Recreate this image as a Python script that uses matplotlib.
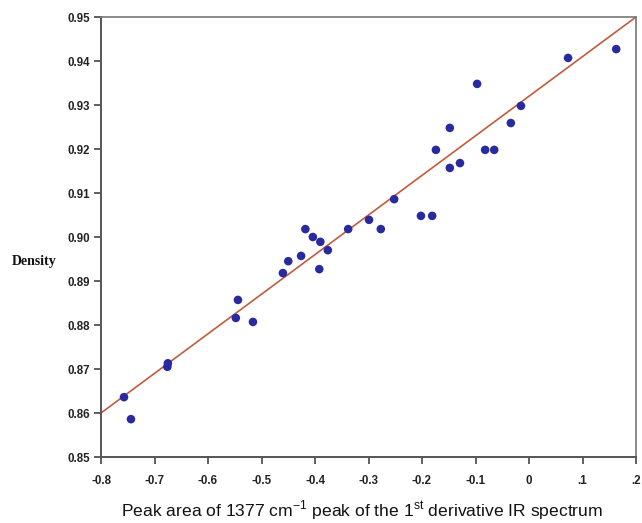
import matplotlib
matplotlib.use("Agg")
import matplotlib.pyplot as plt
import numpy as np

plt.rcParams["axes.unicode_minus"] = False

peak_area = [-0.757, -0.744, -0.675, -0.676, -0.548, -0.544, -0.516, -0.460, -0.450,
             -0.426, -0.418, -0.404, -0.390, -0.392, -0.376, -0.338, -0.299, -0.277,
             -0.252, -0.202, -0.181, -0.174, -0.148, -0.148, -0.129, -0.097, -0.082,
             -0.065, -0.034, -0.015, 0.073, 0.163]
density = [0.8636, 0.8586, 0.8713, 0.8705, 0.8816, 0.8857, 0.8807, 0.8918, 0.8945,
           0.8957, 0.9018, 0.9000, 0.8989, 0.8927, 0.8970, 0.9018, 0.9039, 0.9018,
           0.9086, 0.9048, 0.9048, 0.9198, 0.9157, 0.9248, 0.9168, 0.9348, 0.9198,
           0.9198, 0.9259, 0.9298, 0.9407, 0.9427]

fit_slope = 0.09
fit_intercept = 0.932
fit_x = [-0.8, 0.2]

xticks = [-0.8, -0.7, -0.6, -0.5, -0.4, -0.3, -0.2, -0.1, 0.0, 0.1, 0.2]
xtick_labels = ["-0.8", "-0.7", "-0.6", "-0.5", "-0.4", "-0.3", "-0.2", "-0.1", "0", ".1", ".2"]
yticks = [0.85, 0.86, 0.87, 0.88, 0.89, 0.90, 0.91, 0.92, 0.93, 0.94, 0.95]
ytick_labels = ["0.85", "0.86", "0.87", "0.88", "0.89", "0.90", "0.91", "0.92", "0.93", "0.94", "0.95"]

fig = plt.figure(figsize=(6.42, 5.23), dpi=100)
ax = fig.add_axes([101/642, 1 - 457/523, 535/642, 440/523])

fx = np.array(fit_x)
ax.plot(fx, fit_slope * fx + fit_intercept, color="#c45a3c", lw=1.2, zorder=2)
ax.scatter(peak_area, density, s=38, color="#2a2aa0", edgecolors="none", zorder=3)

ax.set_xlim(-0.8, 0.2)
ax.set_ylim(0.85, 0.95)
ax.set_xticks(xticks)
ax.set_xticklabels(xtick_labels)
ax.set_yticks(yticks)
ax.set_yticklabels(ytick_labels)

for lab in ax.get_xticklabels() + ax.get_yticklabels():
    lab.set_fontfamily("Liberation Sans")
    lab.set_fontweight("bold")
    lab.set_fontsize(8.3)
    lab.set_color("#222222")

ax.tick_params(axis="both", direction="out", length=5, width=1.2, color="#444444", pad=3)
ax.tick_params(axis="x", pad=8)

for side in ["left", "bottom"]:
    ax.spines[side].set_color("#555555")
    ax.spines[side].set_linewidth(1.4)
for side in ["top", "right"]:
    ax.spines[side].set_color("#777777")
    ax.spines[side].set_linewidth(1.2)

fig.text(12/642, 1 - 262/523, "Density", family="Liberation Serif", fontweight="bold",
         fontsize=10, ha="left", va="center", color="#111111")
fig.text(362/642, 1 - 510/523,
         "Peak area of 1377 cm$^{\\mathregular{-1}}$ peak of the 1$^{\\mathregular{st}}$ derivative IR spectrum",
         family="Liberation Sans", fontsize=12.6, ha="center", va="center", color="#111111")

fig.savefig("out.png", dpi=100)
